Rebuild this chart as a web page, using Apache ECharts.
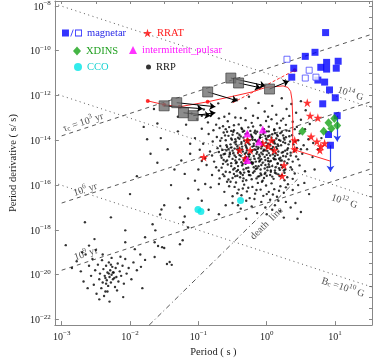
<!DOCTYPE html>
<html>
<head>
<meta charset="utf-8">
<script src="https://cdn.jsdelivr.net/npm/echarts@6.0.0/dist/echarts.min.js"></script>
<style>
html,body{margin:0;padding:0;background:#fff}
#ppdot{width:374px;height:363px}
</style>
</head>
<body>
<div id="ppdot"></div>
<script>
// every value below is log10: [log P (s), log Pdot (s/s)]
var xTicks = [-3, -2, -1, 0, 1];
var yTicks = [-22, -20, -18, -16, -14, -12, -10, -8];
var topTicks = [-3, -2.5, -2, -1.5, -1, -0.5, 0, 0.5, 1, 1.5];
var rightTicks = [-22, -21.5, -21, -20.5, -20, -19.5, -19, -18.5, -18, -17.5, -17, -16.5, -16, -15.5, -15, -14.5, -14, -13.5, -13, -12.5, -12, -11.5, -11, -10.5, -10, -9.5, -9, -8.5, -8];

// guide lines (end points)
var age1e3 = [[-3, -13.8], [1.54, -9.26]];
var age1e6 = [[-3, -16.8], [1.54, -12.26]];
var age1e9 = [[-3, -19.8], [1.54, -15.26]];
var field1e14 = [[-3.05, -7.96], [1.54, -12.55]];
var field1e12 = [[-3.05, -11.96], [1.54, -16.55]];
var field1e10 = [[-3.05, -15.96], [1.54, -20.55]];
var deathLine = [[-1.72, -22.25], [0.45, -15.74]];

// radio pulsars, main island
var rrpMain = [
[-0.92,-12.62],[-0.71,-12.35],[-0.55,-12.81],[-0.44,-12.18],[-0.31,-12.57],[-0.2,-12.9],[-0.12,-12.33],[-0.03,-12.71],[0.08,-12.46],[0.14,-12.86],[0.22,-12.12],[0.29,-12.6],[0.36,-12.38],[0.43,-12.77],[0.5,-12.25],[0.57,-12.66],[-0.62,-12.95],[-0.26,-12.05],[0.02,-12.95],[0.33,-12.91],[-1.1,-12.8],[-0.82,-12.9],
[-1.18,-13.3],[-1.02,-13.05],[-0.95,-13.48],[-0.86,-13.2],[-0.78,-13.55],[-0.7,-13.02],[-0.64,-13.37],[-0.57,-13.15],[-0.52,-13.58],[-0.46,-12.98],[-0.41,-13.29],[-0.36,-13.5],[-0.31,-13.1],[-0.27,-13.42],[-0.22,-13.22],[-0.17,-13.57],[-0.13,-13.0],[-0.09,-13.33],[-0.05,-13.51],[-0.01,-13.14],[0.03,-13.39],[0.07,-13.06],[0.11,-13.55],[0.15,-13.25],[0.19,-13.45],[0.24,-13.03],[0.28,-13.31],[0.33,-13.58],[0.38,-13.17],[0.44,-13.4],[0.5,-13.08],[0.56,-13.5],[0.63,-13.27],[-0.6,-13.5],[-0.38,-13.0],[-0.2,-13.38],[0.0,-13.6],[0.21,-13.12],[-0.48,-13.33],[-0.74,-13.3],
[-1.05,-13.9],[-0.93,-14.15],[-0.85,-13.72],[-0.79,-14.05],[-0.73,-13.85],[-0.68,-14.25],[-0.63,-13.65],[-0.6,-14.0],[-0.56,-13.8],[-0.53,-14.18],[-0.49,-13.62],[-0.46,-13.95],[-0.43,-14.28],[-0.4,-13.75],[-0.37,-14.08],[-0.34,-13.88],[-0.31,-14.22],[-0.28,-13.67],[-0.25,-14.0],[-0.22,-13.82],[-0.19,-14.15],[-0.16,-13.7],[-0.13,-14.04],[-0.1,-13.9],[-0.07,-14.27],[-0.04,-13.64],[-0.01,-14.1],[0.02,-13.84],[0.05,-14.2],[0.08,-13.73],[0.11,-14.02],[0.14,-13.92],[0.17,-14.25],[0.2,-13.68],[0.24,-14.08],[0.28,-13.86],[0.32,-14.18],[0.37,-13.77],[0.42,-14.05],[0.48,-13.7],[0.54,-14.22],[0.61,-13.95],[0.68,-14.12],[-0.58,-14.3],[-0.35,-13.62],[-0.15,-14.28],[0.0,-13.97],[0.16,-13.81],[-0.27,-14.12],[-0.47,-14.1],[-0.66,-13.9],[-0.09,-13.76],[0.26,-13.97],[0.09,-14.3],[-0.38,-13.83],[-0.21,-13.95],[-0.02,-13.8],[0.12,-14.14],[-0.52,-13.92],[-0.3,-14.3],
[-1.12,-14.6],[-0.98,-14.42],[-0.9,-14.8],[-0.83,-14.5],[-0.77,-14.95],[-0.72,-14.35],[-0.67,-14.68],[-0.63,-14.88],[-0.59,-14.45],[-0.55,-14.72],[-0.52,-14.32],[-0.49,-14.58],[-0.46,-14.9],[-0.43,-14.4],[-0.4,-14.66],[-0.37,-14.98],[-0.35,-14.5],[-0.32,-14.78],[-0.29,-14.36],[-0.27,-14.62],[-0.24,-14.86],[-0.21,-14.44],[-0.19,-14.7],[-0.16,-14.95],[-0.13,-14.38],[-0.11,-14.64],[-0.08,-14.84],[-0.05,-14.48],[-0.03,-14.74],[0.0,-14.33],[0.03,-14.57],[0.06,-14.92],[0.09,-14.46],[0.12,-14.7],[0.15,-14.38],[0.18,-14.82],[0.22,-14.55],[0.26,-14.94],[0.3,-14.42],[0.35,-14.68],[0.4,-14.5],[0.46,-14.85],[0.52,-14.6],[0.59,-14.4],[0.67,-14.75],[-0.61,-14.6],[-0.45,-14.75],[-0.3,-14.55],[-0.14,-14.52],[0.02,-14.8],[0.13,-14.58],[-0.58,-14.9],[-0.4,-14.35],[-0.22,-14.98],[-0.06,-14.62],[0.08,-14.4],[0.24,-14.7],[-0.7,-14.52],[-0.34,-14.88],[-0.18,-14.41],[0.05,-14.68],[0.2,-14.9],[-0.5,-14.46],[-0.26,-14.72],[-0.1,-14.9],[0.11,-14.85],[0.32,-14.85],[-0.8,-14.68],[-0.65,-14.42],[-0.42,-14.55],[-0.02,-14.45],[0.16,-14.65],[-0.36,-14.4],[-0.08,-14.36],[0.27,-14.46],[-0.54,-14.62],[-0.12,-14.8],[0.38,-14.95],[-0.95,-14.92],[0.44,-14.34],
[-1.0,-15.3],[-0.88,-15.1],[-0.8,-15.55],[-0.74,-15.2],[-0.69,-15.7],[-0.64,-15.05],[-0.6,-15.4],[-0.56,-15.75],[-0.52,-15.15],[-0.48,-15.5],[-0.45,-15.02],[-0.42,-15.32],[-0.39,-15.65],[-0.36,-15.12],[-0.33,-15.44],[-0.3,-15.78],[-0.27,-15.22],[-0.24,-15.56],[-0.21,-15.06],[-0.18,-15.38],[-0.15,-15.7],[-0.12,-15.16],[-0.09,-15.48],[-0.06,-15.8],[-0.03,-15.26],[0.0,-15.58],[0.03,-15.08],[0.06,-15.4],[0.1,-15.72],[0.13,-15.2],[0.17,-15.52],[0.21,-15.1],[0.25,-15.35],[0.3,-15.65],[0.35,-15.2],[0.41,-15.48],[0.48,-15.12],[0.56,-15.38],[-0.62,-15.6],[-0.47,-15.25],[-0.31,-15.05],[-0.16,-15.28],[0.01,-15.34],[0.16,-15.02],[-0.54,-15.42],[-0.38,-15.48],[-0.22,-15.74],[-0.08,-15.1],[0.08,-15.62],[0.26,-15.78],[-0.7,-15.35],[-0.43,-15.58],[-0.26,-15.4],[-0.11,-15.6],[0.04,-15.18],[0.19,-15.32],[-0.34,-15.3],[-0.02,-15.45],[0.12,-15.45],[0.38,-15.72],[-0.5,-15.68],[-0.19,-15.2],[-0.04,-15.68],[0.22,-15.55],[-0.66,-15.22],[-0.35,-15.82],
[-0.82,-16.1],[-0.7,-15.95],[-0.62,-16.3],[-0.55,-16.05],[-0.5,-16.5],[-0.45,-15.88],[-0.41,-16.2],[-0.37,-16.45],[-0.33,-15.98],[-0.29,-16.28],[-0.25,-16.58],[-0.21,-16.08],[-0.17,-16.38],[-0.13,-15.9],[-0.09,-16.2],[-0.05,-16.48],[-0.01,-16.02],[0.03,-16.3],[0.07,-15.92],[0.11,-16.18],[0.15,-16.52],[0.2,-16.05],[0.25,-16.34],[0.31,-15.96],[0.38,-16.22],[0.46,-16.0],[-0.58,-15.85],[-0.27,-16.12],[-0.07,-15.85],[0.09,-16.42],[-0.43,-16.36],[-0.15,-16.22],[0.18,-16.25],[-0.35,-16.15],[0.0,-16.4],[0.28,-16.1],[-0.47,-16.08],
[-0.5,-16.8],[-0.38,-17.05],[-0.3,-16.7],[-0.22,-16.95],[-0.14,-17.25],[-0.08,-16.75],[-0.02,-17.0],[0.05,-16.65],[0.12,-16.9],[0.2,-17.15],[0.28,-16.75],[0.35,-17.0],[-0.18,-16.62],[0.0,-17.3],[0.17,-16.7],[-0.42,-16.9],[0.08,-17.1],[0.42,-16.8]
];
// radio pulsars, the crowded core of the main island
var rrpCore = [
[-0.69,-13.45],[-0.66,-14.78],[-0.64,-15.52],[-0.61,-13.78],[-0.59,-14.22],[-0.57,-15.08],[-0.55,-13.41],[-0.54,-14.55],[-0.53,-15.85],[-0.51,-13.97],[-0.5,-14.83],[-0.49,-15.3],[-0.48,-13.55],[-0.47,-14.37],[-0.46,-15.6],[-0.45,-14.05],[-0.44,-14.98],[-0.43,-13.68],[-0.42,-15.15],[-0.41,-14.48],[-0.4,-13.93],[-0.39,-15.42],[-0.38,-14.7],[-0.37,-13.45],[-0.36,-14.28],[-0.35,-15.05],[-0.34,-15.7],[-0.33,-14.02],[-0.32,-14.6],[-0.31,-13.72],[-0.3,-15.25],[-0.29,-14.45],[-0.28,-13.95],[-0.27,-14.85],[-0.26,-15.55],[-0.25,-14.18],[-0.24,-13.58],[-0.23,-15.0],[-0.22,-14.5],[-0.21,-13.86],[-0.2,-15.45],[-0.19,-14.25],[-0.18,-14.82],[-0.17,-13.98],[-0.16,-15.15],[-0.15,-14.6],[-0.14,-13.62],[-0.13,-15.62],[-0.12,-14.32],[-0.11,-14.95],[-0.1,-13.85],[-0.09,-15.3],[-0.08,-14.55],[-0.07,-14.08],[-0.06,-15.0],[-0.05,-13.72],[-0.04,-14.42],[-0.03,-15.5],[-0.02,-14.88],[-0.01,-13.92],[0.0,-14.65],[0.01,-15.2],[0.02,-14.15],[0.03,-13.6],[0.04,-14.95],[0.05,-15.55],[0.06,-14.38],[0.07,-13.88],[0.08,-15.15],[0.09,-14.62],[0.1,-14.1],[0.11,-13.5],[0.12,-15.35],[0.13,-14.85],[0.14,-14.3],[0.15,-13.75],[0.16,-15.05],[0.17,-14.5],[0.18,-13.98],[0.19,-15.6],[0.2,-14.78],[0.21,-14.22],[0.22,-13.62],[0.23,-15.2],[0.24,-14.52],[0.25,-13.9],[0.26,-15.45],[0.27,-14.12],[0.28,-14.72],[0.29,-13.56],[0.3,-15.02],[0.31,-14.35],[0.33,-13.82],[0.35,-14.55],[0.37,-15.3],[0.39,-14.18],[0.41,-13.5],[0.43,-14.72],[0.46,-14.0],[0.5,-14.4],
[-0.68,-14.02],[-0.63,-14.62],[-0.58,-13.62],[-0.56,-14.4],[-0.52,-15.02],[-0.5,-13.75],[-0.47,-14.68],[-0.44,-15.38],[-0.42,-13.88],[-0.4,-14.85],[-0.37,-14.15],[-0.35,-15.55],[-0.33,-13.58],[-0.31,-14.95],[-0.29,-14.02],[-0.27,-15.38],[-0.25,-14.62],[-0.23,-13.75],[-0.21,-14.28],[-0.2,-15.0],[-0.18,-13.65],[-0.16,-14.42],[-0.14,-15.25],[-0.12,-13.98],[-0.1,-14.72],[-0.08,-15.55],[-0.06,-14.2],[-0.04,-13.5],[-0.02,-15.1],[0.0,-14.25],[0.02,-14.92],[0.04,-13.8],[0.06,-15.35],[0.08,-14.02],[0.1,-14.8],[0.12,-13.68],[0.14,-15.48],[0.16,-14.18],[0.18,-15.25],[0.2,-14.02],[0.22,-14.9],[0.24,-13.78],[0.27,-15.3],[0.3,-14.6],[0.34,-14.05],[-0.6,-14.95],[-0.45,-14.18],[-0.3,-14.75],[-0.15,-14.05],[0.01,-14.48]
];
// radio pulsars, scattered between the islands
var rrpSparse = [
[-1.8,-13.4],[-1.55,-13.9],[-1.45,-14.4],[-1.3,-13.6],[-1.25,-14.9],[-1.2,-15.5],[-1.12,-14.15],[-1.05,-15.8],[-1.0,-16.2],[-0.95,-16.7],[-0.9,-15.95],[-1.35,-15.3],[-1.6,-15.0],[-1.4,-16.0],[-1.15,-16.6],[-0.85,-17.1],[-0.7,-17.3],[-0.6,-16.9],[-1.7,-14.6],[-1.9,-15.6],[-2.0,-16.4],[-1.5,-16.9],[-1.2,-17.4],[-0.95,-12.9],[-1.3,-12.95],[-1.65,-12.6],[0.55,-15.9],[0.62,-16.4],[0.5,-17.2],[0.7,-15.3],[0.75,-14.4],[0.8,-13.9],[0.45,-17.5],[-0.3,-17.5],[0.25,-17.45],[-1.6,-13.25],[-1.75,-13.95],
[-1.67,-17.75],[-1.54,-17.09],[-1.63,-18.02],[-1.56,-17.31],[-1.27,-17.0],[-1.22,-17.66],[-1.15,-17.89],[-1.27,-18.64],[-1.23,-18.46],[-1.64,-19.21],[-1.53,-18.77],[-1.46,-19.52],[-1.78,-19.34],[-1.84,-19.65],[-2.07,-18.02],[-2.07,-18.55],[-1.93,-18.86],[-2.28,-17.44],[-2.52,-18.41],[-2.66,-17.66],[-2.94,-18.68],[-1.78,-18.33],[-1.64,-18.55],[-1.59,-18.72],[-1.5,-18.81],[-1.42,-19.43],[-1.39,-19.56]
];
// radio pulsars, millisecond island
var rrpMsp = [
[-2.78,-19.4],[-2.72,-19.85],[-2.68,-20.3],[-2.65,-19.1],[-2.62,-20.6],[-2.6,-19.6],[-2.57,-20.05],[-2.55,-19.3],[-2.53,-20.45],[-2.51,-19.8],[-2.49,-20.85],[-2.47,-19.55],[-2.45,-20.2],[-2.44,-19.95],[-2.42,-20.6],[-2.41,-19.35],[-2.4,-20.35],[-2.39,-19.75],[-2.37,-20.05],[-2.36,-20.75],[-2.35,-19.6],[-2.34,-20.25],[-2.33,-19.9],[-2.32,-20.5],[-2.31,-19.45],[-2.3,-20.1],[-2.29,-19.8],[-2.28,-20.35],[-2.27,-20.0],[-2.26,-19.65],[-2.25,-20.2],[-2.24,-19.9],[-2.22,-20.55],[-2.21,-19.7],[-2.2,-20.1],[-2.18,-19.5],[-2.17,-20.3],[-2.15,-19.85],[-2.13,-20.05],[-2.11,-19.6],[-2.09,-20.4],[-2.07,-19.3],[-2.05,-19.95],[-2.02,-19.7],[-1.98,-20.2],[-1.95,-19.45],[-1.9,-19.8],[-1.85,-19.1],[-2.1,-21.0],[-2.3,-21.2],[-2.38,-20.95],[-2.45,-21.1],[-2.5,-18.9],[-2.6,-18.7],[-2.7,-19.0],[-2.85,-19.7],[-2.33,-20.75],[-2.19,-20.7],[-2.27,-19.25],[-2.14,-19.2],[-2.4,-19.1],[-2.35,-20.4],[-2.23,-20.15],[-2.28,-19.55],[-2.31,-19.95],[-2.36,-20.15],[-2.25,-19.9],[-1.82,-20.6]
];

var magnetarFilled = [[0.861,-9.19],[0.564,-10.25],[0.706,-10.07],[0.791,-10.74],[0.876,-10.52],[1.045,-10.47],[0.876,-10.82],[1.017,-10.78],[0.395,-10.78],[0.366,-11.18],[0.748,-11.31],[0.847,-11.4],[0.918,-11.75],[1.003,-12.1],[0.819,-12.37],[1.031,-12.9],[0.904,-13.74],[0.932,-14.22]];
var magnetarOpen = [[0.296,-10.38],[0.621,-10.87],[0.564,-11.22],[0.72,-11.18]];
var magnetarLimits = [[[1.031,-12.9],[1.031,-14.05]], [[0.932,-14.22],[0.932,-15.4]]];
var rrat = [[0.593,-12.32],[0.635,-12.9],[0.748,-12.99],[0.409,-14.0],[0.409,-14.4],[0.649,-13.83],[0.734,-14.05],[0.791,-14.27],[0.777,-14.44],[0.847,-14.13],[-0.921,-14.75],[-0.284,-14.0],[-0.397,-14.44],[-0.242,-14.44],[-0.313,-14.8],[-0.058,-14.13],[0.02,-14.27],[0.069,-14.0],[0.112,-14.44],[0.253,-15.11],[0.225,-15.59]];
var xdins = [[0.522,-13.6],[0.833,-13.6],[0.904,-13.21],[0.989,-13.03],[0.946,-13.47],[1.031,-13.34]];
var intermittent = [[-0.284,-13.69],[-0.058,-13.52],[-0.115,-14.05],[-0.284,-14.88]];
var cco = [[-1.006,-17.09],[-0.963,-17.18],[-0.383,-16.69]];

// grey squares and where their arrows point
var greyBoxes = [[-1.501,-12.46],[-1.317,-12.32],[-1.218,-12.77],[-1.076,-12.9],[-0.864,-11.84],[-0.525,-11.22],[-0.412,-11.44],[0.041,-11.71]];
var greyArrows = [
[[-1.501,-12.46],[-0.935,-12.59]],
[[-1.317,-12.32],[-0.751,-12.5]],
[[-1.218,-12.77],[-0.822,-12.9]],
[[-1.076,-12.9],[-0.751,-12.77]],
[[-0.864,-11.84],[-0.426,-12.24]],
[[-0.525,-11.22],[-0.016,-11.57]],
[[-0.412,-11.44],[-0.086,-11.66]],
[[0.041,-11.71],[0.324,-11.35]]
];
// red evolution track
var redTrack = [[-1.741,-12.24],[-1.501,-12.41],[-1.274,-12.5],[-0.864,-12.28],[-0.52,-12.05],[-0.214,-11.84],[-0.016,-11.64],[0.239,-11.57],[0.31,-11.64],[0.35,-11.82],[0.37,-12.2],[0.38,-13.0],[0.38,-14.35],[0.42,-14.44],[0.932,-14.93]];
var redDots = [[-1.741,-12.24],[-1.501,-12.41],[-1.274,-12.5],[-0.864,-12.28]];
var redBranch = [[-0.496,-12.32],[0.409,-10.87]];

var notes = [
  {text: '{t|τ}{sub|c}{t| = 10}{sup|3}{t| yr}', at: [-2.69, -13.16], rot: 18},
  {text: '{t|10}{sup|6}{t| yr}', at: [-2.66, -16.16], rot: 18},
  {text: '{t|10}{sup|9}{t| yr}', at: [-2.65, -19.03], rot: 18},
  {text: '{t|10}{sup|14}{t| G}', at: [1.23, -11.88], rot: -18},
  {text: '{t|10}{sup|12}{t| G}', at: [1.14, -16.69], rot: -18},
  {text: '{t|B}{sub|c}{t| =10}{sup|10}{t| G}', at: [1.12, -20.53], rot: -18},
  {text: '{t|death  line}', at: [0.0, -17.71], rot: 45}
];

var serif = 'Liberation Serif';
var starPath = 'path://M50,0L61,35L98,35L68,57L79,91L50,70L21,91L32,57L2,35L39,35Z';
var magIcon = 'path://M0,0H8V8H0Z M9.5,8L12.5,0H13.5L10.5,8Z M15,0H23V8H15Z M16,1V7H22V1Z';

function powLabel(v) {
	return '{b|10}{s|' + (v < 0 ? '\u2212' : '') + Math.abs(v) + '}';
}
var powRich = {
	b: {fontFamily: serif, fontSize: 10, color: '#222', verticalAlign: 'bottom'},
	s: {fontFamily: serif, fontSize: 7, color: '#222', verticalAlign: 'bottom', padding: [0, 0, 5, 0]}
};
var noteRich = {
	t: {fontFamily: serif, fontSize: 10, color: '#222', verticalAlign: 'bottom'},
	sup: {fontFamily: serif, fontSize: 7, color: '#222', verticalAlign: 'bottom', padding: [0, 0, 5, 0]},
	sub: {fontFamily: serif, fontSize: 7, color: '#222', verticalAlign: 'bottom'}
};

function guide(pts, dash) {
	return {type: 'line', data: pts, symbol: 'none', silent: true, z: 1,
		lineStyle: {color: '#444', width: 0.9, type: dash}};
}
function oneLegend(name, icon, w, h, left, top, color) {
	return {data: [{name: name, icon: icon, textStyle: {color: color}}],
		left: left, top: top, padding: 0, itemWidth: w, itemHeight: h, selectedMode: false,
		textStyle: {fontFamily: serif, fontSize: 10.5, lineHeight: 12}};
}

var chart = echarts.init(document.getElementById('ppdot'));
var option = {
	animation: false,
	textStyle: {fontFamily: serif},
	grid: {left: 44, top: 1, width: 328, height: 328},
	legend: [
		oneLegend('magnetar', magIcon, 20, 7, 62, 27, '#2a2ae8'),
		oneLegend('XDINS', 'diamond', 8, 9, 73, 45, '#1f9f1f'),
		oneLegend('CCO', 'circle', 8, 8, 74, 61, '#19d2d2'),
		oneLegend('RRAT', starPath, 9, 9, 143, 27, '#ff1a1a'),
		oneLegend('intermittent_pulsar', 'triangle', 8, 8, 129, 44, '#ff19ff'),
		oneLegend('RRP', 'circle', 5, 5, 146, 61, '#111')
	],
	xAxis: [{
		type: 'value', min: -3.1, max: 1.54, position: 'bottom',
		name: 'Period ( s )', nameLocation: 'middle', nameGap: 19,
		nameTextStyle: {fontFamily: serif, fontSize: 10.5, color: '#222'},
		axisLine: {onZero: false, lineStyle: {color: '#888'}},
		axisTick: {inside: true, length: 4, customValues: xTicks, lineStyle: {color: '#888'}},
		axisLabel: {customValues: xTicks, margin: 5, formatter: powLabel, rich: powRich},
		splitLine: {show: false}
	}, {
		type: 'value', min: -3.1, max: 1.54, position: 'top',
		axisLine: {onZero: false, lineStyle: {color: '#888'}},
		axisTick: {inside: true, length: 3, customValues: topTicks, lineStyle: {color: '#888'}},
		axisLabel: {show: false}, splitLine: {show: false}
	}],
	yAxis: [{
		type: 'value', min: -22.25, max: -7.78, position: 'left',
		name: 'Period derivative ( s/ s)', nameLocation: 'middle', nameGap: 29,
		nameTextStyle: {fontFamily: serif, fontSize: 10.5, color: '#222'},
		axisLine: {onZero: false, lineStyle: {color: '#888'}},
		axisTick: {inside: true, length: 4, customValues: yTicks, lineStyle: {color: '#888'}},
		axisLabel: {customValues: yTicks, margin: 4, formatter: powLabel, rich: powRich},
		splitLine: {show: false}
	}, {
		type: 'value', min: -22.25, max: -7.78, position: 'right',
		axisLine: {onZero: false, lineStyle: {color: '#888'}},
		axisTick: {inside: true, length: 3, customValues: rightTicks, lineStyle: {color: '#888'}},
		axisLabel: {show: false}, splitLine: {show: false}
	}],
	series: [
		guide(age1e3, [4, 4]), guide(age1e6, [4, 4]), guide(age1e9, [4, 4]),
		guide(field1e14, [1, 3.5]), guide(field1e12, [1, 3.5]), guide(field1e10, [1, 3.5]),
		guide(deathLine, [5, 3, 1, 3]),
		{
			type: 'scatter', name: 'RRP', data: rrpMain.concat(rrpCore, rrpSparse, rrpMsp),
			symbol: 'circle', symbolSize: 2.4, itemStyle: {color: '#000'}, z: 2, silent: true
		},
		{
			type: 'line', name: 'track', data: redTrack, symbol: 'none', z: 3,
			lineStyle: {color: '#ff2a2a', width: 1}
		},
		{
			type: 'line', name: 'branch', data: redBranch, symbol: 'none', z: 3,
			lineStyle: {color: '#ff2a2a', width: 1, type: [3, 2]}
		},
		{
			type: 'scatter', name: 'trackDots', data: redDots.concat([redBranch[1]]),
			symbolSize: 4, itemStyle: {color: '#ff0000'}, z: 3
		},
		{
			type: 'lines', coordinateSystem: 'cartesian2d', z: 4,
			data: greyArrows.map(function (c) { return {coords: c}; }),
			symbol: ['none', 'arrow'], symbolSize: 6,
			lineStyle: {color: '#000', width: 1, opacity: 1}
		},
		{
			type: 'scatter', name: 'boxes', data: greyBoxes, symbol: 'rect', symbolSize: 10, z: 5,
			itemStyle: {color: '#6f6f6f', borderColor: '#333', borderWidth: 0.8}
		},
		{
			type: 'lines', coordinateSystem: 'cartesian2d', z: 4,
			data: magnetarLimits.map(function (c) { return {coords: c}; }),
			symbol: ['none', 'arrow'], symbolSize: 6,
			lineStyle: {color: '#2a3ff0', width: 1.2, opacity: 1}
		},
		{
			type: 'scatter', name: 'magnetar', data: magnetarFilled, symbol: 'rect', symbolSize: 7, z: 6,
			itemStyle: {color: '#0000ff'}
		},
		{
			type: 'scatter', name: 'magnetar-open', data: magnetarOpen, symbol: 'rect', symbolSize: 6, z: 6,
			itemStyle: {color: '#fff', borderColor: '#4a4aff', borderWidth: 1}
		},
		{
			type: 'scatter', name: 'RRAT', data: rrat, symbol: starPath, symbolSize: 9, z: 6,
			itemStyle: {color: '#ff0000'}
		},
		{
			type: 'scatter', name: 'XDINS', data: xdins, symbol: 'diamond', symbolSize: [8, 9], z: 6,
			itemStyle: {color: '#17a317'}
		},
		{
			type: 'scatter', name: 'intermittent_pulsar', data: intermittent, symbol: 'triangle', symbolSize: 8, z: 6,
			itemStyle: {color: '#ff00ff'}
		},
		{
			type: 'scatter', name: 'CCO', data: cco, symbol: 'circle', symbolSize: 7, z: 6,
			itemStyle: {color: '#00e6e6'}
		},
		{
			type: 'scatter', name: 'notes', symbolSize: 0, silent: true, z: 7,
			itemStyle: {color: 'rgba(0,0,0,0)'},
			data: notes.map(function (n) {
				return {value: n.at, text: n.text, label: {rotate: n.rot}};
			}),
			label: {
				show: true, position: 'inside', rich: noteRich,
				formatter: function (p) { return p.data.text; }
			}
		}
	]
};
chart.setOption(option);
</script>
</body>
</html>
